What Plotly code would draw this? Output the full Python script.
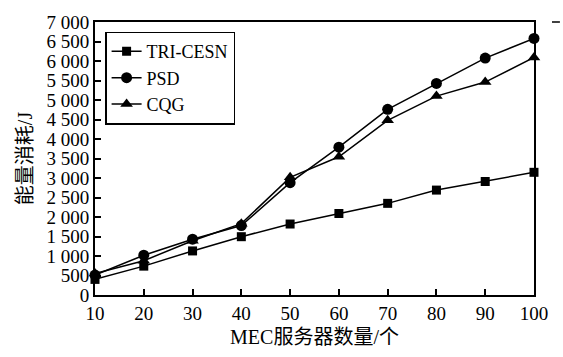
import plotly.graph_objects as go

x_vals = [10, 20, 30, 40, 50, 60, 70, 80, 90, 100]
tri_cesn = [400, 740, 1130, 1495, 1820, 2090, 2350, 2690, 2910, 3146]
psd = [510, 1020, 1430, 1780, 2880, 3790, 4760, 5425, 6075, 6578]
cqg = [550, 880, 1390, 1830, 3017, 3544, 4480, 5100, 5460, 6090]

y_tickvals = [0, 500, 1000, 1500, 2000, 2500, 3000, 3500, 4000, 4500, 5000, 5500, 6000, 6500, 7000]
y_ticktext = ["0", "500", "1 000", "1 500", "2 000", "2 500", "3 000", "3 500", "4 000",
              "4 500", "5 000", "5 500", "6 000", "6 500", "7 000"]
x_tickvals = [10, 20, 30, 40, 50, 60, 70, 80, 90, 100]

serif = "Liberation Serif, Times New Roman, serif"
cjk = "Liberation Serif, Noto Sans CJK SC, serif"

fig = go.Figure()
series = [
    ("TRI-CESN", tri_cesn, "square", 9),
    ("PSD", psd, "circle", 11),
    ("CQG", cqg, "triangle-up", 11),
]
for name, vals, sym, sz in series:
    fig.add_trace(go.Scatter(
        x=x_vals, y=vals, name=name, mode="lines+markers",
        line=dict(color="black", width=1.5),
        marker=dict(symbol=sym, size=sz, color="black"),
        cliponaxis=False,
    ))

fig.update_layout(
    width=563, height=357,
    margin=dict(l=95, r=29, t=16, b=54),
    paper_bgcolor="white", plot_bgcolor="white",
    font=dict(family=serif, size=19, color="black"),
    showlegend=True,
    legend=dict(
        x=0.023, y=0.965, xanchor="left", yanchor="top",
        bordercolor="black", borderwidth=1.5, bgcolor="white",
        font=dict(family=serif, size=18, color="black"),
        tracegroupgap=0, itemwidth=30,
    ),
    xaxis=dict(
        range=[10, 100], tickvals=x_tickvals, ticks="inside", ticklen=6,
        tickwidth=1.5, tickcolor="black",
        showline=True, linecolor="black", linewidth=2, mirror=True,
        showgrid=False, zeroline=False,
        title=dict(text="MEC服务器数量/个", font=dict(family=cjk, size=20), standoff=7),
        tickfont=dict(family=serif, size=19),
    ),
    yaxis=dict(
        range=[0, 7000], tickvals=y_tickvals, ticktext=y_ticktext, ticks="inside",
        ticklen=6, tickwidth=1.5, tickcolor="black",
        showline=True, linecolor="black", linewidth=2, mirror=True,
        showgrid=False, zeroline=False,
        title=dict(text="能量消耗/J", font=dict(family=cjk, size=20), standoff=8),
        tickfont=dict(family=serif, size=19),
    ),
    shapes=[dict(type="line", xref="paper", yref="paper", x0=1.041, x1=1.059, y0=1, y1=1,
                 line=dict(color="black", width=1.5))],
)

fig.write_html("out.html")
